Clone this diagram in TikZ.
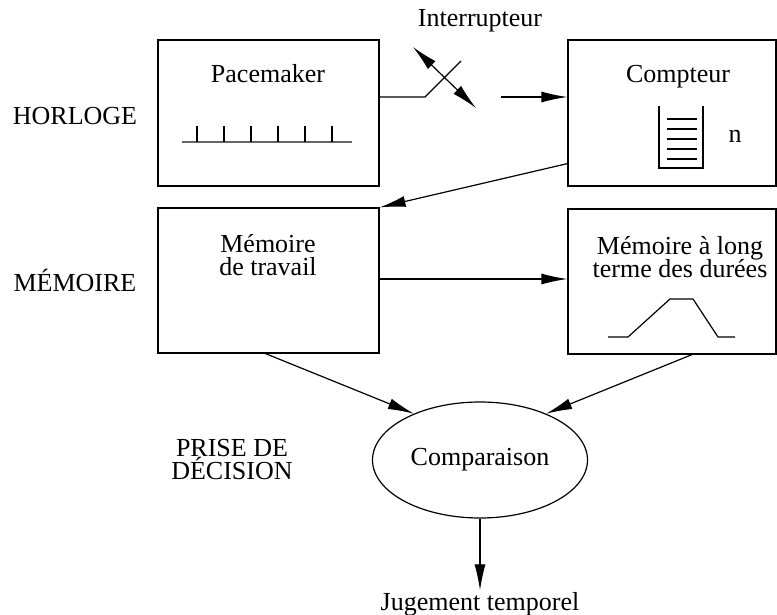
\documentclass[tikz,border=0pt]{standalone}
\usepackage{fontspec}
\setmainfont{Liberation Serif}
\usetikzlibrary{calc}
\usetikzlibrary{arrows.meta}
\usetikzlibrary{shapes.geometric}

\newcommand\lblfont{\fontsize{13}{11.5}\selectfont\lineskiplimit-8pt\relax}
\tikzset{
  lbl/.style={font=\lblfont, align=center, inner sep=0.5pt},
  boite/.style={draw, inner sep=0pt},
}

\begin{document}
\begin{tikzpicture}[x=0.5pt, y=-0.5pt, line width=0.6pt,
    >={Latex[length=13pt,width=5.5pt]}, every node/.style={lbl}]
        \useasboundingbox (0,0) rectangle (777,615);
        % boites
        \node[boite, minimum width=110.5pt, minimum height=73pt] (pace) at (268.5,113) {};
        \node[boite, minimum width=104pt, minimum height=73pt] (compt) at (672,113) {};
        \node[boite, minimum width=110.5pt, minimum height=72.5pt] (trav) at (268.5,280.5) {};
        \node[boite, minimum width=104pt, minimum height=72.5pt] (longt) at (672,281.5) {};
        \node[ellipse, draw, minimum width=107.5pt, minimum height=58pt, inner sep=0pt] (comp) at (480,460) {Comparaison};
        % textes
        \node[anchor=base] (tpace) at (268,83) {Pacemaker};
        \node[anchor=base] (tcompt) at (678,83) {Compteur};
        \node[anchor=base] (n) at (735,143) {n};
        \node[anchor=base] (intr) at (480,27) {Interrupteur};
        \node (ttrav) at (268,255) {Mémoire\\de travail};
        \node (tlong) at (680,257) {Mémoire à long\\terme des durées};
        \node[anchor=base] (jug) at (480,610) {Jugement temporel};
        \node[anchor=base] (horl) at (75,125) {HORLOGE};
        \node[anchor=base] (mem) at (75,292) {MÉMOIRE};
        \node (prise) at (232,460) {PRISE DE\\DÉCISION};
        % pacemaker
        \draw[black!60] (182,142) -- (352,142);
        \draw (197,142) -- (197,126) (224,142) -- (224,126) (251,142) -- (251,126)
              (278,142) -- (278,126) (305,142) -- (305,126) (332,142) -- (332,126);
        % compteur
        \draw (659,106) -- (659,168) -- (703,168) -- (703,106);
        \draw (667,119) -- (697,119) (667,129) -- (697,129) (667,139) -- (697,139)
              (667,149) -- (697,149) (667,159) -- (697,159);
        % durees
        \draw (608,337) -- (628,337) -- (670,299) -- (693,299) -- (718,337) -- (735,337);
        % interrupteur
        \coordinate (s1) at ($(pace.east)+(0,-16)$);
        \coordinate (s2) at (425,97);
        \coordinate (s3) at (461,61);
        \coordinate (d1) at (413,47);
        \coordinate (d2) at (476,108);
        \coordinate (s4) at (501,97);
        \draw (s1) -- (s2) -- (s3);
        \draw (d1) edge[<->] (d2);
        \draw (s4) edge[->] (s4 -| compt.west);
        % fleches
        \coordinate (c1) at ($(compt.south west)+(0,-23)$);
        \coordinate (m1) at ($(trav.east)+(0,-1.5)$);
        \coordinate (t1) at ($(trav.south)+(-3,0)$);
        \coordinate (l1) at ($(longt.south)+(20,0)$);
        \draw (c1) edge[->] (trav.north east);
        \draw (m1) edge[->] (m1 -| longt.west);
        \draw (t1) edge[->] (comp.145);
        \draw (l1) edge[->] (comp.35);
        \draw (comp.south) edge[->] (jug.north);
    \end{tikzpicture}
\end{document}
